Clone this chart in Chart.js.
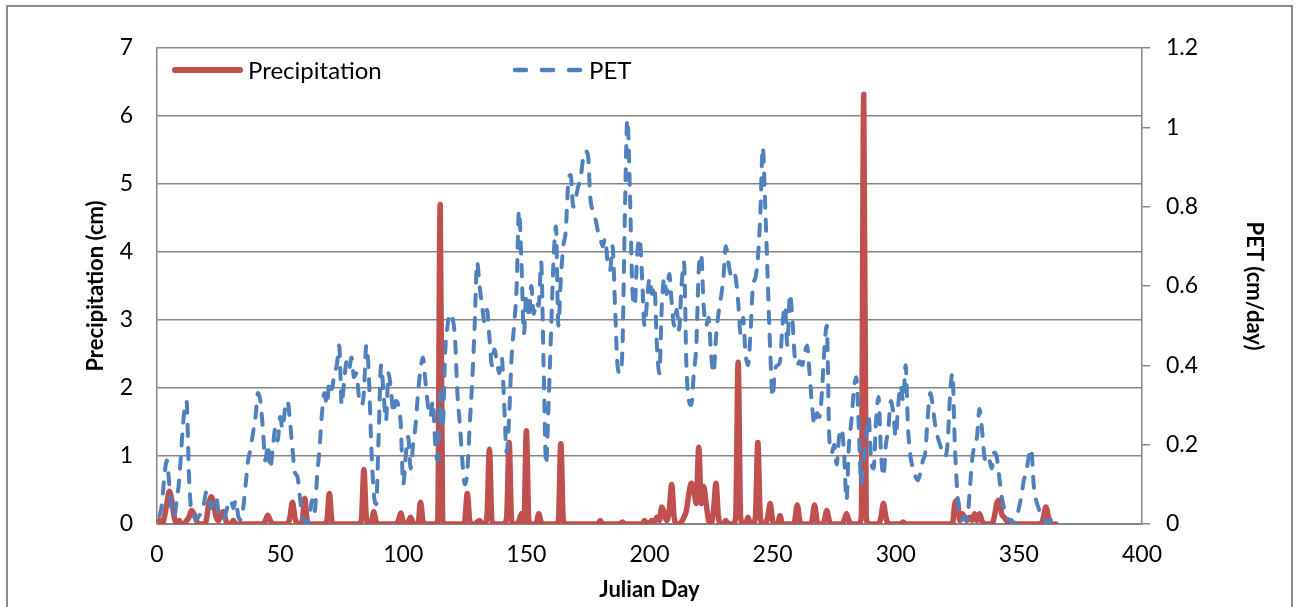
<!DOCTYPE html>
<html>
<head>
<meta charset="utf-8">
<title>Precipitation and PET</title>
<script src="https://cdn.jsdelivr.net/npm/chart.js@4.4.1/dist/chart.umd.min.js"></script>
<style>
  html, body { margin: 0; padding: 0; background: #fff; }
  #wrap { position: relative; width: 1297px; height: 607px; overflow: hidden; }
  #frame {
    position: absolute; left: 6px; top: 5px; width: 1287px; height: 640px;
    border: 2px solid #8c8c8c; box-sizing: border-box; pointer-events: none;
  }
  canvas { position: absolute; left: 0; top: 0; }
</style>
</head>
<body>
<div id="wrap">
  <div id="frame"></div>
  <canvas id="chart" width="1297" height="607"></canvas>
</div>
<script>
// julian day 1..365
const days = Array.from({ length: 365 }, (_, i) => i + 1);

// daily precipitation, cm (left axis)
const precipitation = [
  0.05, 0, 0.1, 0.3, 0.48, 0.35, 0.1, 0, 0.05, 0,
  0, 0.05, 0.1, 0.2, 0.15, 0.05, 0, 0, 0, 0.05,
  0.3, 0.4, 0.3, 0.1, 0.05, 0.15, 0.18, 0.05, 0, 0,
  0.05, 0, 0, 0, 0, 0, 0, 0, 0, 0,
  0, 0, 0, 0.05, 0.13, 0.05, 0, 0, 0, 0,
  0, 0, 0, 0.1, 0.32, 0.1, 0, 0, 0.05, 0.38,
  0.05, 0, 0, 0, 0, 0, 0, 0, 0.05, 0.45,
  0.05, 0, 0, 0, 0, 0, 0, 0, 0, 0,
  0, 0, 0.05, 0.8, 0.1, 0, 0, 0.18, 0.03, 0,
  0, 0, 0, 0, 0, 0, 0, 0.05, 0.16, 0.03,
  0, 0.03, 0.1, 0.02, 0, 0, 0.32, 0.05, 0, 0,
  0, 0, 0, 0.05, 4.7, 0.05, 0, 0, 0, 0,
  0, 0, 0, 0, 0.05, 0.45, 0.05, 0, 0, 0.03,
  0.05, 0, 0, 0.12, 1.1, 0.05, 0, 0, 0, 0,
  0, 0.1, 1.2, 0.05, 0, 0, 0.05, 0.15, 0, 1.37,
  0.05, 0, 0, 0, 0.15, 0.03, 0, 0, 0, 0,
  0, 0, 0.05, 1.18, 0.05, 0, 0, 0, 0, 0,
  0, 0, 0, 0, 0, 0, 0, 0, 0, 0.05,
  0, 0, 0, 0, 0, 0, 0, 0, 0.03, 0,
  0, 0, 0, 0, 0, 0, 0, 0.05, 0, 0.02,
  0.05, 0.03, 0.1, 0.05, 0.25, 0.15, 0.05, 0.2, 0.58, 0.1,
  0, 0, 0.03, 0.1, 0.2, 0.45, 0.6, 0.5, 0.3, 1.13,
  0.3, 0.55, 0.3, 0.05, 0, 0.2, 0.6, 0.1, 0, 0,
  0.05, 0, 0, 0, 0.1, 2.38, 0.1, 0, 0, 0.1,
  0, 0, 0.1, 1.2, 0.1, 0, 0, 0.1, 0.3, 0.05,
  0, 0, 0.12, 0, 0, 0, 0, 0, 0.05, 0.28,
  0.05, 0, 0, 0, 0, 0.05, 0.28, 0.05, 0, 0,
  0.05, 0.2, 0.05, 0, 0, 0, 0, 0, 0.05, 0.15,
  0.05, 0, 0, 0, 0, 0.1, 6.32, 0.1, 0, 0,
  0, 0, 0, 0.1, 0.3, 0.1, 0, 0, 0, 0,
  0, 0, 0.03, 0, 0, 0, 0, 0, 0, 0,
  0, 0, 0, 0, 0, 0, 0, 0, 0, 0,
  0, 0, 0, 0.3, 0.35, 0.05, 0.15, 0.1, 0.05, 0.1,
  0.05, 0.15, 0.05, 0.15, 0.05, 0, 0, 0, 0, 0.1,
  0.3, 0.35, 0.15, 0.1, 0.05, 0, 0, 0, 0, 0,
  0, 0, 0, 0, 0, 0, 0, 0, 0, 0.1,
  0.25, 0.1, 0, 0, 0
];

// potential evapotranspiration, cm/day (right axis)
const pet = [
  0.02, 0.05, 0.12, 0.16, 0.10, 0.03, 0.02, 0.06, 0.11, 0.20,
  0.28, 0.31, 0.12, 0.03, 0.02, 0.01, 0.02, 0.03, 0.05, 0.08,
  0.06, 0.04, 0.06, 0.07, 0.03, 0.02, 0.01, 0.03, 0.05, 0.06,
  0.04, 0.06, 0.02, 0.01, 0.04, 0.10, 0.16, 0.19, 0.23, 0.27,
  0.33, 0.31, 0.24, 0.16, 0.20, 0.14, 0.19, 0.24, 0.21, 0.27,
  0.24, 0.29, 0.31, 0.26, 0.19, 0.13, 0.12, 0.07, 0.02, 0.01,
  0.00, 0.02, 0.06, 0.03, 0.12, 0.19, 0.28, 0.33, 0.30, 0.36,
  0.34, 0.38, 0.40, 0.45, 0.30, 0.36, 0.41, 0.39, 0.42, 0.37,
  0.38, 0.32, 0.30, 0.33, 0.45, 0.38, 0.20, 0.08, 0.05, 0.22,
  0.40, 0.33, 0.26, 0.38, 0.34, 0.28, 0.31, 0.30, 0.25, 0.10,
  0.17, 0.22, 0.14, 0.20, 0.25, 0.33, 0.39, 0.42, 0.36, 0.30,
  0.27, 0.31, 0.20, 0.16, 0.33, 0.24, 0.43, 0.50, 0.53, 0.52,
  0.47, 0.33, 0.25, 0.16, 0.10, 0.13, 0.25, 0.36, 0.50, 0.66,
  0.60, 0.55, 0.51, 0.54, 0.47, 0.40, 0.44, 0.41, 0.38, 0.42,
  0.30, 0.18, 0.27, 0.42, 0.50, 0.59, 0.79, 0.66, 0.48, 0.58,
  0.52, 0.60, 0.53, 0.56, 0.55, 0.66, 0.40, 0.15, 0.30, 0.48,
  0.66, 0.75, 0.50, 0.62, 0.70, 0.74, 0.86, 0.88, 0.80, 0.82,
  0.85, 0.87, 0.92, 0.94, 0.93, 0.82, 0.79, 0.77, 0.74, 0.72,
  0.70, 0.72, 0.66, 0.64, 0.70, 0.55, 0.40, 0.38, 0.44, 0.78,
  1.02, 0.85, 0.60, 0.55, 0.68, 0.72, 0.62, 0.50, 0.56, 0.62,
  0.58, 0.60, 0.45, 0.38, 0.55, 0.62, 0.58, 0.63, 0.56, 0.50,
  0.54, 0.49, 0.60, 0.66, 0.40, 0.31, 0.30, 0.38, 0.45, 0.64,
  0.68, 0.55, 0.50, 0.52, 0.43, 0.38, 0.47, 0.53, 0.57, 0.62,
  0.70, 0.66, 0.63, 0.64, 0.62, 0.56, 0.48, 0.52, 0.43, 0.40,
  0.48, 0.60, 0.62, 0.67, 0.78, 0.95, 0.80, 0.62, 0.44, 0.32,
  0.39, 0.40, 0.41, 0.50, 0.55, 0.45, 0.58, 0.52, 0.42, 0.40,
  0.41, 0.40, 0.43, 0.45, 0.38, 0.30, 0.25, 0.28, 0.27, 0.33,
  0.44, 0.50, 0.22, 0.18, 0.20, 0.15, 0.22, 0.24, 0.18, 0.06,
  0.20, 0.26, 0.34, 0.37, 0.24, 0.10, 0.16, 0.22, 0.27, 0.16,
  0.14, 0.26, 0.32, 0.18, 0.12, 0.20, 0.24, 0.31, 0.28, 0.22,
  0.30, 0.35, 0.31, 0.40, 0.24, 0.17, 0.14, 0.12, 0.11, 0.13,
  0.16, 0.18, 0.27, 0.33, 0.30, 0.25, 0.22, 0.20, 0.18, 0.17,
  0.20, 0.32, 0.38, 0.20, 0.08, 0.02, 0.01, 0.02, 0.01, 0.08,
  0.16, 0.20, 0.22, 0.29, 0.24, 0.17, 0.15, 0.16, 0.14, 0.18,
  0.17, 0.12, 0.07, 0.04, 0.02, 0.01, 0.01, 0.00, 0.01, 0.04,
  0.07, 0.11, 0.13, 0.17, 0.19, 0.10, 0.06, 0.04, 0.02, 0.01,
  0.01, 0.00, 0.01, 0.00, 0.01
];

const xTicks = [0, 50, 100, 150, 200, 250, 300, 350, 400];

const RED = "#C0504D";
const BLUE = "#4F81BD";
const GRID = "#868686";
const FONT = "Lato, 'Liberation Sans', sans-serif";

// legend drawn inside the plot area, like the original
const insideLegend = {
  id: "insideLegend",
  afterDraw(chart) {
    const c = chart.ctx;
    const y = 70;
    c.save();
    c.lineCap = "round";

    c.strokeStyle = RED;
    c.lineWidth = 6;
    c.beginPath();
    c.moveTo(175, y);
    c.lineTo(240, y);
    c.stroke();

    c.strokeStyle = BLUE;
    c.lineWidth = 4.5;
    c.setLineDash([11, 16]);
    c.beginPath();
    c.moveTo(515, y);
    c.lineTo(582, y);
    c.stroke();
    c.setLineDash([]);

    c.fillStyle = "#000";
    c.font = "24px " + FONT;
    c.textBaseline = "middle";
    c.fillText(chart.data.datasets[1].label, 248, y + 1);
    c.fillText(chart.data.datasets[0].label, 589, y + 1);
    c.restore();
  },
};

const ctx = document.getElementById("chart");

new Chart(ctx, {
  type: "line",
  data: {
    datasets: [
      {
        label: "PET",
        data: days.map((d, i) => ({ x: d, y: pet[i] })),
        yAxisID: "y1",
        borderColor: BLUE,
        borderWidth: 4,
        borderDash: [11, 12],
        borderCapStyle: "round",
        cubicInterpolationMode: "monotone",
        pointRadius: 0,
        fill: false,
        order: 1,
      },
      {
        label: "Precipitation",
        data: days.map((d, i) => ({ x: d, y: precipitation[i] })),
        yAxisID: "y",
        borderColor: RED,
        borderWidth: 5.5,
        borderJoinStyle: "round",
        borderCapStyle: "round",
        cubicInterpolationMode: "monotone",
        pointRadius: 0,
        fill: false,
        order: 2,
      },
    ],
  },
  options: {
    responsive: false,
    animation: false,
    events: [],
    layout: { padding: { left: 80, right: 20, top: 48, bottom: 0 } },
    plugins: {
      legend: { display: false },
      tooltip: { enabled: false },
    },
    scales: {
      x: {
        type: "linear",
        min: 0,
        max: 400,
        afterBuildTicks: (scale) => {
          scale.ticks = xTicks.map((v) => ({ value: v }));
        },
        afterFit: (scale) => {
          scale.height = 83;
        },
        ticks: {
          color: "#000",
          font: { family: FONT, size: 23 },
          padding: 9,
          maxRotation: 0,
        },
        grid: { display: false },
        border: { display: true, color: GRID, width: 1 },
        title: {
          display: true,
          text: "Julian Day",
          color: "#000",
          font: { family: FONT, size: 22, weight: "bold" },
          padding: { top: 0, bottom: 4 },
        },
      },
      y: {
        position: "left",
        min: 0,
        max: 7,
        afterFit: (scale) => {
          scale.width = 77;
        },
        ticks: {
          stepSize: 1,
          color: "#000",
          font: { family: FONT, size: 23 },
          padding: 24,
        },
        grid: { color: GRID, lineWidth: 1.5, drawTicks: false },
        border: { display: true, color: GRID, width: 1.5 },
        title: {
          display: true,
          text: "Precipitation (cm)",
          color: "#000",
          font: { family: FONT, size: 22, weight: "bold" },
          padding: { top: 3, bottom: 0 },
        },
      },
      y1: {
        position: "right",
        min: 0,
        max: 1.2,
        afterFit: (scale) => {
          scale.width = 135;
        },
        ticks: {
          stepSize: 0.2,
          color: "#000",
          font: { family: FONT, size: 23 },
          padding: 16,
          callback: (v) => String(Number(v.toFixed(1))),
        },
        grid: {
          drawOnChartArea: false,
          drawTicks: true,
          tickLength: 8,
          color: GRID,
          lineWidth: 1.5,
        },
        border: { display: true, color: GRID, width: 1.5 },
        title: {
          display: true,
          text: "PET (cm/day)",
          color: "#000",
          font: { family: FONT, size: 22, weight: "bold" },
          padding: { top: 10, bottom: 0 },
        },
      },
    },
  },
  plugins: [insideLegend],
});
</script>
</body>
</html>
